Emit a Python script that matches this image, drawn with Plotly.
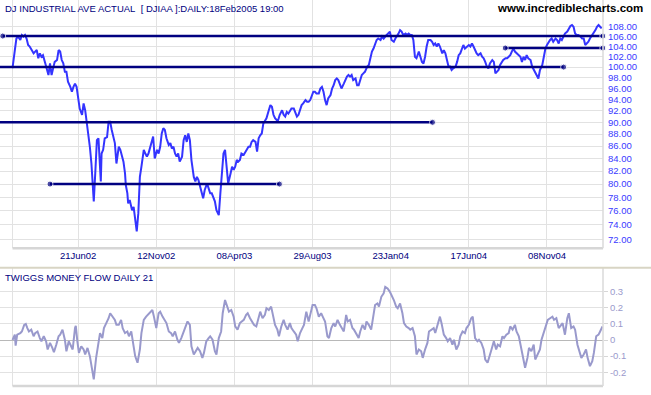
import math
import plotly.graph_objects as go

# ---------------- data ----------------
# x = trading-day index (gridlines every 100 bars)
tick_days = [84, 184, 284, 384, 484, 584, 684]
tick_labels = ["21Jun02", "12Nov02", "08Apr03", "29Aug03", "23Jan04", "17Jun04", "08Nov04"]

price_day = [
    0, 1, 3, 5, 7, 10, 12, 14, 16, 18,
    20, 22, 25, 27, 29, 31, 33, 35, 37, 39,
    42, 44, 46, 48, 50, 52, 54, 57, 59, 61,
    63, 65, 67, 69, 71, 74, 76, 78, 80, 82,
    84, 86, 89, 91, 93, 95, 97, 99, 101, 103,
    104, 106, 108, 110, 112, 113, 114, 116, 118, 121,
    123, 125, 127, 129, 131, 133, 136, 138, 140, 142,
    144, 145, 147, 148, 150, 153, 155, 157, 158, 159,
    161, 163, 165, 168, 170, 172, 174, 176, 178, 180,
    182, 185, 187, 189, 191, 193, 195, 197, 200, 202,
    204, 206, 208, 210, 212, 214, 217, 219, 221, 223,
    225, 227, 229, 232, 234, 236, 238, 240, 242, 244,
    246, 249, 251, 253, 255, 257, 259, 261, 264, 266,
    268, 270, 272, 274, 276, 279, 281, 283, 285, 287,
    289, 291, 293, 296, 298, 300, 302, 304, 306, 308,
    311, 313, 315, 317, 319, 321, 323, 325, 328, 330,
    332, 334, 336, 338, 340, 342, 345, 347, 349, 351,
    353, 355, 357, 360, 362, 364, 366, 368, 370, 372,
    375, 377, 379, 381, 383, 385, 387, 389, 392, 394,
    396, 398, 400, 402, 404, 407,
    409, 411, 413, 415, 417, 419, 421, 424, 426, 428,
    430, 432, 434, 436, 439, 441, 443, 445, 447, 449,
    451, 454, 456, 458, 460, 462, 464, 466, 468, 471,
    473, 475, 477, 479, 481, 483, 485, 488, 490, 492,
    494, 496, 498, 500, 503, 505, 507, 509, 511, 513,
    515, 517, 520, 522, 524, 526, 528, 530, 532, 535,
    537, 539, 541, 543, 545, 547, 550, 552, 554, 556,
    558, 560, 562, 564, 567, 569, 571, 573, 575, 577,
    579, 582, 584, 586, 588, 590, 592, 594, 596, 599,
    601, 603, 605, 607, 609, 611, 614, 616, 618, 620,
    622, 624, 626, 628, 631, 633, 635, 637, 639, 641,
    643, 646, 648, 650, 652, 654, 656, 658, 660, 663,
    665, 667, 669, 671, 673, 675, 678, 680, 682, 684,
    686, 688, 690, 692, 695, 697, 699, 701, 703, 705,
    707, 710, 712, 714, 716, 718, 720, 722, 724, 727,
    729, 731, 733, 735, 737, 739, 742, 744, 746, 748,
    750, 752, 754,
]
price_close = [
    99.8, 101.4, 103.3, 105.6, 106.0, 105.3, 106.3, 106.0, 106.3, 105.6,
    104.3, 104.0, 103.0, 102.65, 103.0, 103.3, 101.7, 102.65, 102.0, 102.3,
    100.7, 99.4, 98.5, 100.7, 98.5, 99.75, 101.0, 101.35, 103.3, 103.0,
    101.35, 100.7, 99.1, 99.1, 97.25, 96.3, 95.4, 96.3, 96.9, 96.3,
    93.9, 92.4, 91.3, 93.3, 92.1, 90.1, 88.1, 85.9, 83.2, 79.6,
    77.4, 81.9, 87.0, 87.3, 82.7, 80.4, 84.8, 85.4, 87.3, 87.5,
    90.1, 90.1, 88.7, 87.8, 86.5, 83.2, 85.9, 85.4, 84.3, 83.5,
    81.65, 79.85, 78.6, 77.1, 77.6, 76.1, 76.6, 74.7, 74.2, 73.1,
    75.65, 81.1, 82.7, 85.4, 84.8, 84.3, 84.8, 85.6, 86.7, 87.6,
    84.0, 85.4, 84.8, 85.9, 88.1, 89.0, 88.7, 87.3, 86.2, 86.5,
    85.6, 85.9, 84.8, 84.3, 84.8, 83.5, 84.3, 87.0, 87.8, 86.7,
    88.1, 87.0, 83.75, 81.1, 80.4, 81.1, 80.6, 79.6, 78.6, 77.85,
    79.1, 80.1, 79.35, 78.6, 78.6, 77.85, 77.4, 76.1, 75.4, 78.6,
    82.2, 84.8, 85.4, 82.7, 80.1, 81.6, 82.7, 82.2, 82.7, 83.75,
    83.5, 83.75, 84.8, 84.6, 85.1, 85.4, 85.9, 85.9, 86.7, 87.0,
    86.7, 85.1, 87.3, 87.8, 88.1, 89.8, 90.4, 90.7, 92.1, 93.0,
    92.7, 91.3, 90.7, 90.4, 90.4, 91.3, 92.1, 91.3, 91.0, 91.8,
    91.5, 92.1, 92.4, 92.4, 91.5, 91.0, 91.3, 92.4, 93.0, 93.3,
    93.9, 93.6, 93.6, 93.9, 94.8, 95.4, 95.4, 95.1, 95.1, 96.0,
    96.3, 95.4, 93.9, 93.0, 94.2, 94.8,
    96.0, 96.6, 97.55, 97.85, 97.55, 96.6, 96.0, 96.9, 97.55, 98.2,
    98.5, 98.2, 98.5, 97.55, 97.85, 96.6, 96.6, 97.55, 98.5, 98.8,
    99.1, 100.1, 100.4, 101.7, 103.0, 103.6, 104.6, 105.3, 105.6, 105.3,
    106.0, 105.6, 106.0, 106.3, 106.6, 107.0, 105.3, 104.95, 105.6, 106.0,
    106.6, 107.3, 107.0, 106.3, 106.6, 106.3, 106.6, 106.3, 106.3, 105.3,
    102.0, 101.7, 103.0, 102.0, 101.0, 100.7, 102.0, 104.0, 105.3, 105.3,
    104.95, 104.3, 104.6, 104.0, 104.6, 104.0, 102.65, 103.3, 102.65, 101.35,
    100.1, 100.1, 99.45, 99.75, 100.1, 101.0, 102.3, 102.65, 103.3, 104.3,
    103.6, 104.0, 104.3, 104.0, 104.6, 104.0, 103.3, 102.65, 102.3, 102.65,
    102.0, 101.7, 101.0, 100.1, 99.75, 100.7, 101.35, 101.0, 98.8, 99.1,
    99.45, 100.4, 101.0, 101.35, 101.7, 101.7, 102.0, 102.3, 103.0, 103.6,
    103.0, 102.65, 102.3, 102.0, 101.0, 102.0, 101.35, 102.3, 101.7, 101.35,
    100.1, 99.45, 98.8, 98.2, 97.85, 99.45, 100.4, 102.0, 103.6, 104.3,
    104.95, 105.3, 105.6, 104.95, 105.6, 105.3, 104.6, 105.6, 105.3, 106.0,
    106.6, 107.0, 107.65, 108.15, 108.35, 108.0, 106.6, 106.3, 106.3, 106.0,
    105.6, 105.6, 104.3, 104.6, 104.95, 105.6, 106.3, 107.0, 107.3, 108.0,
    108.35, 108.0, 107.65,
]

# horizontal trendlines (support / resistance)
trend_level = [106.1, 100.0, 90.0, 80.0, 103.7]
trend_start = [-12.5, -16.0, -16.0, 48.0, 630.6]
trend_end = [755.4, 705.3, 537.5, 341.6, 755.4]
trend_start_dot = [True, False, False, True, True]

mf_day = [
    0, 3, 4, 6, 10, 12, 15, 17, 19, 21,
    24, 27, 29, 32, 35, 37, 40, 43, 45, 48,
    51, 53, 56, 59, 61, 64, 67, 69, 72, 75,
    77, 80, 81, 83, 85, 88, 91, 93, 96, 99,
    101, 104, 107, 109, 112, 115, 117, 120, 123, 125,
    128, 131, 133, 136, 139, 141, 144, 147, 149, 152,
    155, 157, 160, 163, 165, 168, 171, 173, 176, 179,
    181, 184, 187, 189, 192, 195, 197, 200, 203, 205,
    208, 211, 213, 216, 219, 221, 224, 227, 229, 232,
    235, 237, 240, 243, 245, 248, 251, 253, 256, 259,
    261, 264, 267, 269, 272, 275, 277, 280, 283, 285,
    288, 291, 293, 296, 299, 301, 304, 307, 309, 312,
    315, 317, 320, 323, 325, 328, 331, 333, 336, 339,
    341, 344, 347, 349, 352, 355, 357, 360, 363, 365,
    368, 371, 373, 376, 379, 381, 384, 387, 389, 392,
    395, 397, 400, 403, 405, 408, 411, 413, 416, 419,
    421, 424, 427, 429, 432, 435, 437, 440, 443, 445,
    448, 451, 453, 456, 459, 461, 464, 467, 469, 472,
    475, 477, 480, 483, 485, 488, 491, 493, 496, 499,
    501, 504, 507, 509, 512, 515, 517, 520, 523, 525,
    528, 531, 533, 536, 539, 541, 544, 547, 549, 552,
    555, 557, 560, 563, 565, 568, 571, 573, 576, 579,
    581, 584, 587, 589, 592, 595, 597, 600, 603, 605,
    608, 611, 613, 616, 619, 621, 624, 627, 629, 632,
    635, 637, 640, 643, 645, 648, 651, 653, 656, 659,
    661, 664, 667, 669, 672, 675, 677, 680, 683, 685,
    688, 691, 693, 696, 699, 701, 704, 707, 710, 712,
    715, 718, 720, 723, 726, 728, 731, 734, 736, 739,
    742, 744, 747, 750, 752, 755,
]
mf_value = [
    0.000, 0.033, -0.035, 0.033, 0.043, 0.053, 0.094, 0.100, 0.074, 0.053,
    0.064, 0.023, 0.043, 0.053, 0.012, -0.008, 0.023, -0.008, -0.059, -0.018,
    -0.049, -0.076, -0.029, 0.023, 0.033, 0.064, 0.002, -0.070, -0.008, -0.039,
    -0.059, 0.074, 0.088, -0.008, -0.080, -0.039, -0.059, -0.090, -0.049, -0.100,
    -0.152, -0.244, -0.111, -0.059, 0.043, 0.012, 0.074, 0.105, 0.135, 0.166,
    0.145, 0.125, 0.094, 0.094, 0.125, 0.074, 0.043, 0.053, 0.023, 0.053,
    -0.039, -0.100, -0.141, -0.059, 0.043, 0.125, 0.145, 0.156, 0.166, 0.186,
    0.145, 0.074, 0.166, 0.176, 0.145, 0.125, 0.105, 0.053, 0.043, 0.023,
    0.053, 0.002, -0.018, 0.012, 0.053, 0.074, 0.115, 0.094, -0.039, -0.090,
    -0.059, -0.049, -0.070, -0.111, -0.080, -0.008, 0.012, 0.023, 0.002, -0.070,
    -0.090, 0.012, 0.053, 0.166, 0.248, 0.197, 0.176, 0.186, 0.145, 0.084,
    0.064, 0.105, 0.115, 0.125, 0.156, 0.166, 0.135, 0.115, 0.094, 0.084,
    0.135, 0.176, 0.135, 0.156, 0.197, 0.186, 0.207, 0.166, 0.094, 0.064,
    0.023, 0.084, 0.125, 0.094, 0.064, 0.105, 0.074, 0.053, 0.033, -0.008,
    0.043, 0.074, 0.094, 0.176, 0.115, 0.156, 0.217, 0.217, 0.197, 0.145,
    0.166, 0.145, 0.115, 0.023, 0.012, 0.074, 0.105, 0.084, 0.125, 0.094,
    0.074, 0.053, 0.156, 0.115, 0.125, 0.074, 0.064, 0.033, 0.012, 0.053,
    0.094, 0.064, 0.115, 0.094, 0.064, 0.125, 0.217, 0.227, 0.207, 0.268,
    0.289, 0.330, 0.320, 0.299, 0.279, 0.248, 0.207, 0.197, 0.227, 0.166,
    0.105, 0.084, 0.074, 0.064, 0.074, 0.023, -0.090, -0.059, -0.070, -0.111,
    -0.059, -0.018, 0.053, 0.064, 0.074, 0.043, 0.094, 0.145, 0.105, 0.033,
    0.012, -0.008, 0.012, -0.029, 0.002, -0.059, -0.029, 0.023, 0.053, 0.043,
    0.074, 0.094, 0.135, 0.145, 0.012, -0.008, 0.002, -0.018, -0.059, -0.121,
    -0.141, -0.100, -0.059, -0.008, -0.059, -0.029, -0.039, 0.023, 0.012, 0.033,
    0.043, 0.084, 0.064, 0.094, 0.053, 0.023, -0.049, -0.100, -0.172, -0.111,
    -0.049, -0.070, -0.029, -0.121, -0.090, -0.059, 0.002, 0.053, 0.094, 0.125,
    0.135, 0.145, 0.125, 0.135, 0.074, 0.084, 0.105, 0.033, 0.135, 0.166,
    0.074, 0.084, 0.064, -0.029, -0.080, -0.111, -0.090, -0.059, -0.111, -0.162,
    -0.131, -0.080, 0.023, 0.033, 0.053, 0.084,
]

price_ticks = [72, 74, 76, 78, 80, 82, 84, 86, 88, 90, 92, 94, 96, 98,
               100, 102, 104, 106, 108]
mf_ticks = [-0.2, -0.1, 0, 0.1, 0.2, 0.3]
mf_tick_labels = ["-0.2", "-0.1", "0", "0.1", "0.2", "0.3"]

title_text = "DJ INDUSTRIAL AVE ACTUAL\u00a0\u00a0[ DJIAA ]:DAILY:18Feb2005 19:00"
lower_title = "TWIGGS MONEY FLOW DAILY 21"
site_text = "www.incrediblecharts.com"

# ---------------- layout geometry ----------------
W, H = 651, 395
MT, MB, ML, MR = 0, 9, 0, 48
PW, PH = W - ML - MR, H - MT - MB


def py(ypx):
    return 1 - (ypx - MT) / PH


X_RANGE = [-16.0, 755.7]
FONT = "Liberation Sans, Arial, sans-serif"
NAVY = "#000080"
GRID = "#e2e2e2"

fig = go.Figure()

fig.add_trace(go.Scatter(
    x=price_day, y=price_close, mode="lines",
    line=dict(color="#3434ff", width=2),
    xaxis="x", yaxis="y", hoverinfo="skip", showlegend=False,
))

for lvl, s, e, sd in zip(trend_level, trend_start, trend_end, trend_start_dot):
    fig.add_trace(go.Scatter(
        x=[s, e], y=[lvl, lvl], mode="lines+markers",
        line=dict(color=NAVY, width=2.5),
        marker=dict(color=NAVY, size=[6 if sd else 0, 6]),
        cliponaxis=False, xaxis="x", yaxis="y",
        hoverinfo="skip", showlegend=False,
    ))

fig.add_trace(go.Scatter(
    x=mf_day, y=mf_value, mode="lines",
    line=dict(color="#9999cc", width=2),
    xaxis="x2", yaxis="y2", hoverinfo="skip", showlegend=False,
))

top_bottom = py(248.3)
low_top = py(268)

fig.update_layout(
    width=W, height=H,
    margin=dict(l=ML, r=MR, t=MT, b=MB, pad=0),
    paper_bgcolor="white", plot_bgcolor="white",
    showlegend=False, hovermode=False,
    font=dict(family=FONT, size=10, color=NAVY),
    xaxis=dict(
        domain=[0, 1], range=X_RANGE, anchor="y",
        tickvals=[0] + tick_days, ticktext=[""] + tick_labels,
        showgrid=True, gridcolor=GRID, gridwidth=1,
        zeroline=False, showline=False, ticks="",
        tickfont=dict(family=FONT, size=9.5, color=NAVY),
    ),
    xaxis2=dict(
        domain=[0, 1], range=X_RANGE, anchor="y2",
        tickvals=[0] + tick_days, showticklabels=False,
        showgrid=True, gridcolor=GRID, gridwidth=1,
        zeroline=False, showline=False, ticks="",
    ),
    yaxis=dict(
        type="log", domain=[top_bottom, 1], anchor="x", side="right",
        range=[math.log10(70.775), math.log10(113.65)],
        tickvals=price_ticks, ticktext=[f"{v:.2f}" for v in price_ticks],
        showgrid=True, gridcolor=GRID, gridwidth=1,
        zeroline=False, showline=False, ticks="",
        tickfont=dict(family=FONT, size=9.5, color="#3a3aff"),
        ticklabelstandoff=4,
    ),
    yaxis2=dict(
        domain=[0, low_top], anchor="x2", side="right",
        range=[-0.2854, 0.4467],
        tickvals=mf_ticks, ticktext=mf_tick_labels,
        showgrid=True, gridcolor=GRID, gridwidth=1,
        zeroline=True, zerolinecolor="#b8b8b8", zerolinewidth=1,
        showline=False, ticks="outside", ticklen=4, tickcolor="#d6d6d6",
        tickfont=dict(family=FONT, size=9.5, color="#9a9acc"),
    ),
)

shapes = [
    # bottom axis lines of both panels
    dict(type="line", xref="x", yref="y domain", x0=0, x1=X_RANGE[1], y0=0, y1=0,
         line=dict(color="#d6d6d6", width=2.5)),
    dict(type="line", xref="x2", yref="y2 domain", x0=0, x1=X_RANGE[1], y0=0, y1=0,
         line=dict(color="#d6d6d6", width=2.5)),
    # right borders
    dict(type="line", xref="x domain", yref="y domain", x0=1, x1=1, y0=0, y1=1,
         line=dict(color="#dadada", width=1.5)),
    dict(type="line", xref="x2 domain", yref="y2 domain", x0=1, x1=1, y0=0, y1=1,
         line=dict(color="#dadada", width=1.5)),
    # separator between panels
    dict(type="line", xref="paper", yref="paper", x0=0, x1=W / PW,
         y0=py(267.7), y1=py(267.7), line=dict(color="#d8d5c4", width=2)),
]
fig.update_layout(shapes=shapes)

fig.update_layout(annotations=[
    dict(text=title_text, xref="paper", yref="paper", x=3 / PW, y=py(1),
         xanchor="left", yanchor="top", showarrow=False,
         font=dict(family=FONT, size=9.5, color=NAVY)),
    dict(text=f"<b>{site_text}</b>", xref="paper", yref="paper", x=645 / PW, y=py(0),
         xanchor="right", yanchor="top", showarrow=False,
         font=dict(family=FONT, size=11.5, color="black")),
    dict(text=lower_title, xref="paper", yref="paper", x=3 / PW, y=py(270),
         xanchor="left", yanchor="top", showarrow=False,
         font=dict(family=FONT, size=9.5, color=NAVY)),
])

fig.write_html(
    "out.html",
    config={"displayModeBar": False, "staticPlot": True},
    post_script="document.body.style.margin='0';document.body.style.overflow='hidden';",
)
